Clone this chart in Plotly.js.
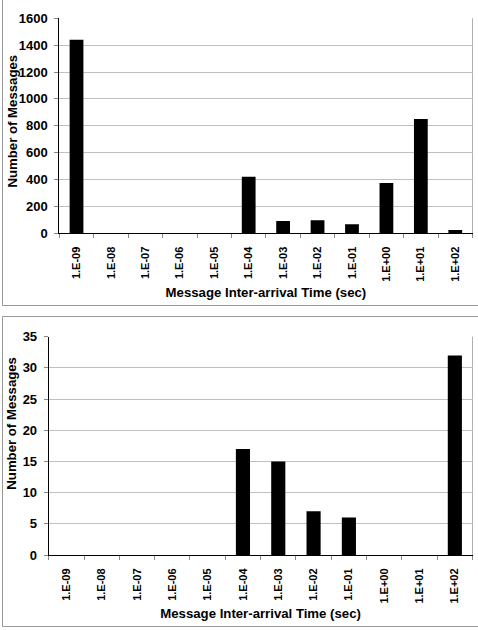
<!DOCTYPE html>
<html>
<head>
<meta charset="utf-8">
<script src="https://cdn.plot.ly/plotly-3.0.1.min.js"></script>
<style>html,body{margin:0;padding:0;background:#fff;}#chart{width:478px;height:630px;}</style>
</head>
<body>
<div id="chart"></div>
<script>
// Data
var categories = ['1.E-09','1.E-08','1.E-07','1.E-06','1.E-05','1.E-04','1.E-03','1.E-02','1.E-01','1.E+00','1.E+01','1.E+02'];
var countsTop = [1440, 0, 0, 0, 0, 420, 92, 97, 67, 374, 851, 25];
var countsBottom = [0, 0, 0, 0, 0, 17, 15, 7, 6, 0, 0, 32];
var xTitle = 'Message Inter-arrival Time (sec)';
var yTitle = 'Number of Messages';

var W = 478, H = 630;
function px(x){ return x / W; }
function py(y){ return 1 - y / H; }

var FONT = '"Liberation Sans", Arial, sans-serif';
var tickFontX = {family: FONT, size: 11, color: '#000', weight: 700};
var tickFontY = {family: FONT, size: 13, color: '#000', weight: 700};
var titleFont = {family: FONT, size: 13.2, color: '#000', weight: 700};

var traces = [
  {type: 'bar', x: categories, y: countsTop, xaxis: 'x', yaxis: 'y',
   marker: {color: '#000', line: {color: '#000', width: 0}}, hoverinfo: 'x+y'},
  {type: 'bar', x: categories, y: countsBottom, xaxis: 'x2', yaxis: 'y2',
   marker: {color: '#000', line: {color: '#000', width: 0}}, hoverinfo: 'x+y'}
];

function xAxis(domain, anchor){
  return {
    domain: domain, anchor: anchor, type: 'category',
    tickson: 'boundaries', ticks: 'outside', ticklen: 4, tickcolor: '#888', tickwidth: 1,
    showline: true, linecolor: '#000', linewidth: 1, showgrid: false, zeroline: false,
    tickangle: -90, tickfont: tickFontX, ticklabelstandoff: 8,
    title: {text: xTitle, font: titleFont, standoff: 6},
    fixedrange: true
  };
}
function yAxis(domain, anchor, range, dtick){
  return {
    domain: domain, anchor: anchor, range: range, dtick: dtick,
    ticks: 'outside', ticklen: 4, tickcolor: '#888', tickwidth: 1,
    showline: true, linecolor: '#000', linewidth: 1,
    showgrid: true, gridcolor: '#c0c0c0', gridwidth: 1, zeroline: false,
    tickfont: tickFontY, ticklabelstandoff: 4, fixedrange: true
  };
}

var layout = {
  width: W, height: H,
  margin: {l: 0, r: 0, t: 0, b: 0},
  paper_bgcolor: '#fff', plot_bgcolor: '#fff',
  showlegend: false,
  bargap: 0.6,
  xaxis: xAxis([px(59.3), px(472.5)], 'y'),
  yaxis: yAxis([py(233.3), py(18.3)], 'x', [0, 1600], 200),
  xaxis2: xAxis([px(48.7), px(472.5)], 'y2'),
  yaxis2: yAxis([py(555), py(336.7)], 'x2', [0, 35], 5),
  annotations: [
    {xref: 'paper', yref: 'paper', x: px(12), y: py(121.5), text: yTitle, textangle: -90,
     showarrow: false, font: titleFont, xanchor: 'center', yanchor: 'middle'},
    {xref: 'paper', yref: 'paper', x: px(11.7), y: py(423), text: yTitle, textangle: -90,
     showarrow: false, font: titleFont, xanchor: 'center', yanchor: 'middle'}
  ],
  shapes: [
    // chart frames
    {type: 'rect', xref: 'paper', yref: 'paper', x0: px(2.5), x1: px(485), y0: py(-5), y1: py(305.5),
     line: {color: '#999', width: 1}, fillcolor: 'rgba(0,0,0,0)', layer: 'below'},
    {type: 'rect', xref: 'paper', yref: 'paper', x0: px(2.5), x1: px(485), y0: py(316.5), y1: py(626.5),
     line: {color: '#999', width: 1}, fillcolor: 'rgba(0,0,0,0)', layer: 'below'},
    // plot area right borders
    {type: 'line', xref: 'x domain', yref: 'y domain', x0: 1, x1: 1, y0: 0, y1: 1,
     line: {color: '#b0b0b0', width: 1}, layer: 'below'},
    {type: 'line', xref: 'x2 domain', yref: 'y2 domain', x0: 1, x1: 1, y0: 0, y1: 1,
     line: {color: '#b0b0b0', width: 1}, layer: 'below'}
  ]
};

Plotly.newPlot('chart', traces, layout, {displayModeBar: false, staticPlot: true});
</script>
</body>
</html>
